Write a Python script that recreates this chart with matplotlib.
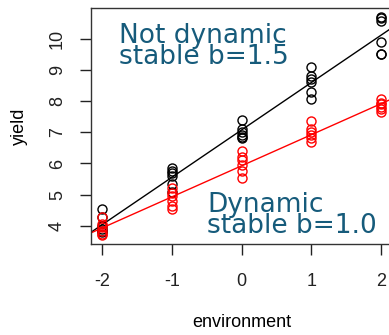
import numpy as np
import matplotlib
matplotlib.use("Agg")
import matplotlib.pyplot as plt

environment = [-2, -1, 0, 1, 2]

# yield of the two varieties, six replicates per environment
not_dynamic = [
    [4.55, 4.3, 4.0, 3.9, 3.85, 3.8],
    [5.85, 5.75, 5.7, 5.6, 5.35, 5.1],
    [7.4, 7.1, 7.0, 6.9, 6.85, 6.8],
    [9.1, 8.8, 8.7, 8.6, 8.3, 8.05],
    [10.7, 10.65, 10.55, 9.9, 9.5, 9.5],
]
dynamic = [
    [4.3, 4.05, 3.95, 3.85, 3.75, 3.7],
    [5.2, 5.05, 4.95, 4.8, 4.65, 4.55],
    [6.4, 6.2, 6.1, 5.95, 5.75, 5.55],
    [7.35, 7.1, 7.0, 6.9, 6.8, 6.7],
    [8.05, 7.95, 7.9, 7.8, 7.75, 7.65],
]

label_top = "Not dynamic\nstable b=1.5"
label_bottom = "Dynamic\nstable b=1.0"
text_col = "#165b7b"

fig = plt.figure(figsize=(3.89, 3.35), dpi=100)
# axes box runs past the right edge like the cropped original
ax = fig.add_axes([91 / 389, 1 - 244 / 335, 301 / 389, 236 / 335])

xs, ys_all = [], []
for series, col in [(not_dynamic, "black"), (dynamic, "red")]:
    x = np.repeat(environment, [len(v) for v in series])
    y = np.concatenate(series)
    ax.plot(x, y, "o", mfc="none", mec=col, ms=6.5, mew=1.0, clip_on=False)
    b, a = np.polyfit(x, y, 1)
    ax.axline((0, a), slope=b, color=col, lw=1.0)
    xs.append(x)
    ys_all.append(y)

# R style 4% range extension
xa = np.concatenate(xs)
ya = np.concatenate(ys_all)
dx = 0.04 * (xa.max() - xa.min())
dy = 0.04 * (ya.max() - ya.min())
ax.set_xlim(xa.min() - dx, xa.max() + dx)
ax.set_ylim(ya.min() - dy, ya.max() + dy)

ax.set_xticks(environment)
ax.set_xticklabels([str(v) for v in environment], fontsize=13, family="Liberation Sans")
ax.set_yticks(range(4, 11))
ax.set_yticklabels([str(v) for v in range(4, 11)], fontsize=13,
                   family="Liberation Sans", rotation=90, va="center")
ax.tick_params(axis="x", direction="out", length=8, width=1, pad=13, colors="#222222")
ax.tick_params(axis="y", direction="out", length=8, width=1, pad=10, colors="#222222")
for s in ax.spines.values():
    s.set_color("#333333")
    s.set_linewidth(1.0)

ax.set_xlabel("environment", fontsize=13, family="Liberation Sans", labelpad=17)
ax.set_ylabel("yield", fontsize=13, family="Liberation Sans", labelpad=15)

ax.text(0.094, 0.938, label_top, transform=ax.transAxes, fontsize=19,
        color=text_col, va="top", ha="left", linespacing=0.78)
ax.text(0.385, 0.222, label_bottom, transform=ax.transAxes, fontsize=19,
        color=text_col, va="top", ha="left", linespacing=0.78)

fig.savefig("out.png", dpi=100)
